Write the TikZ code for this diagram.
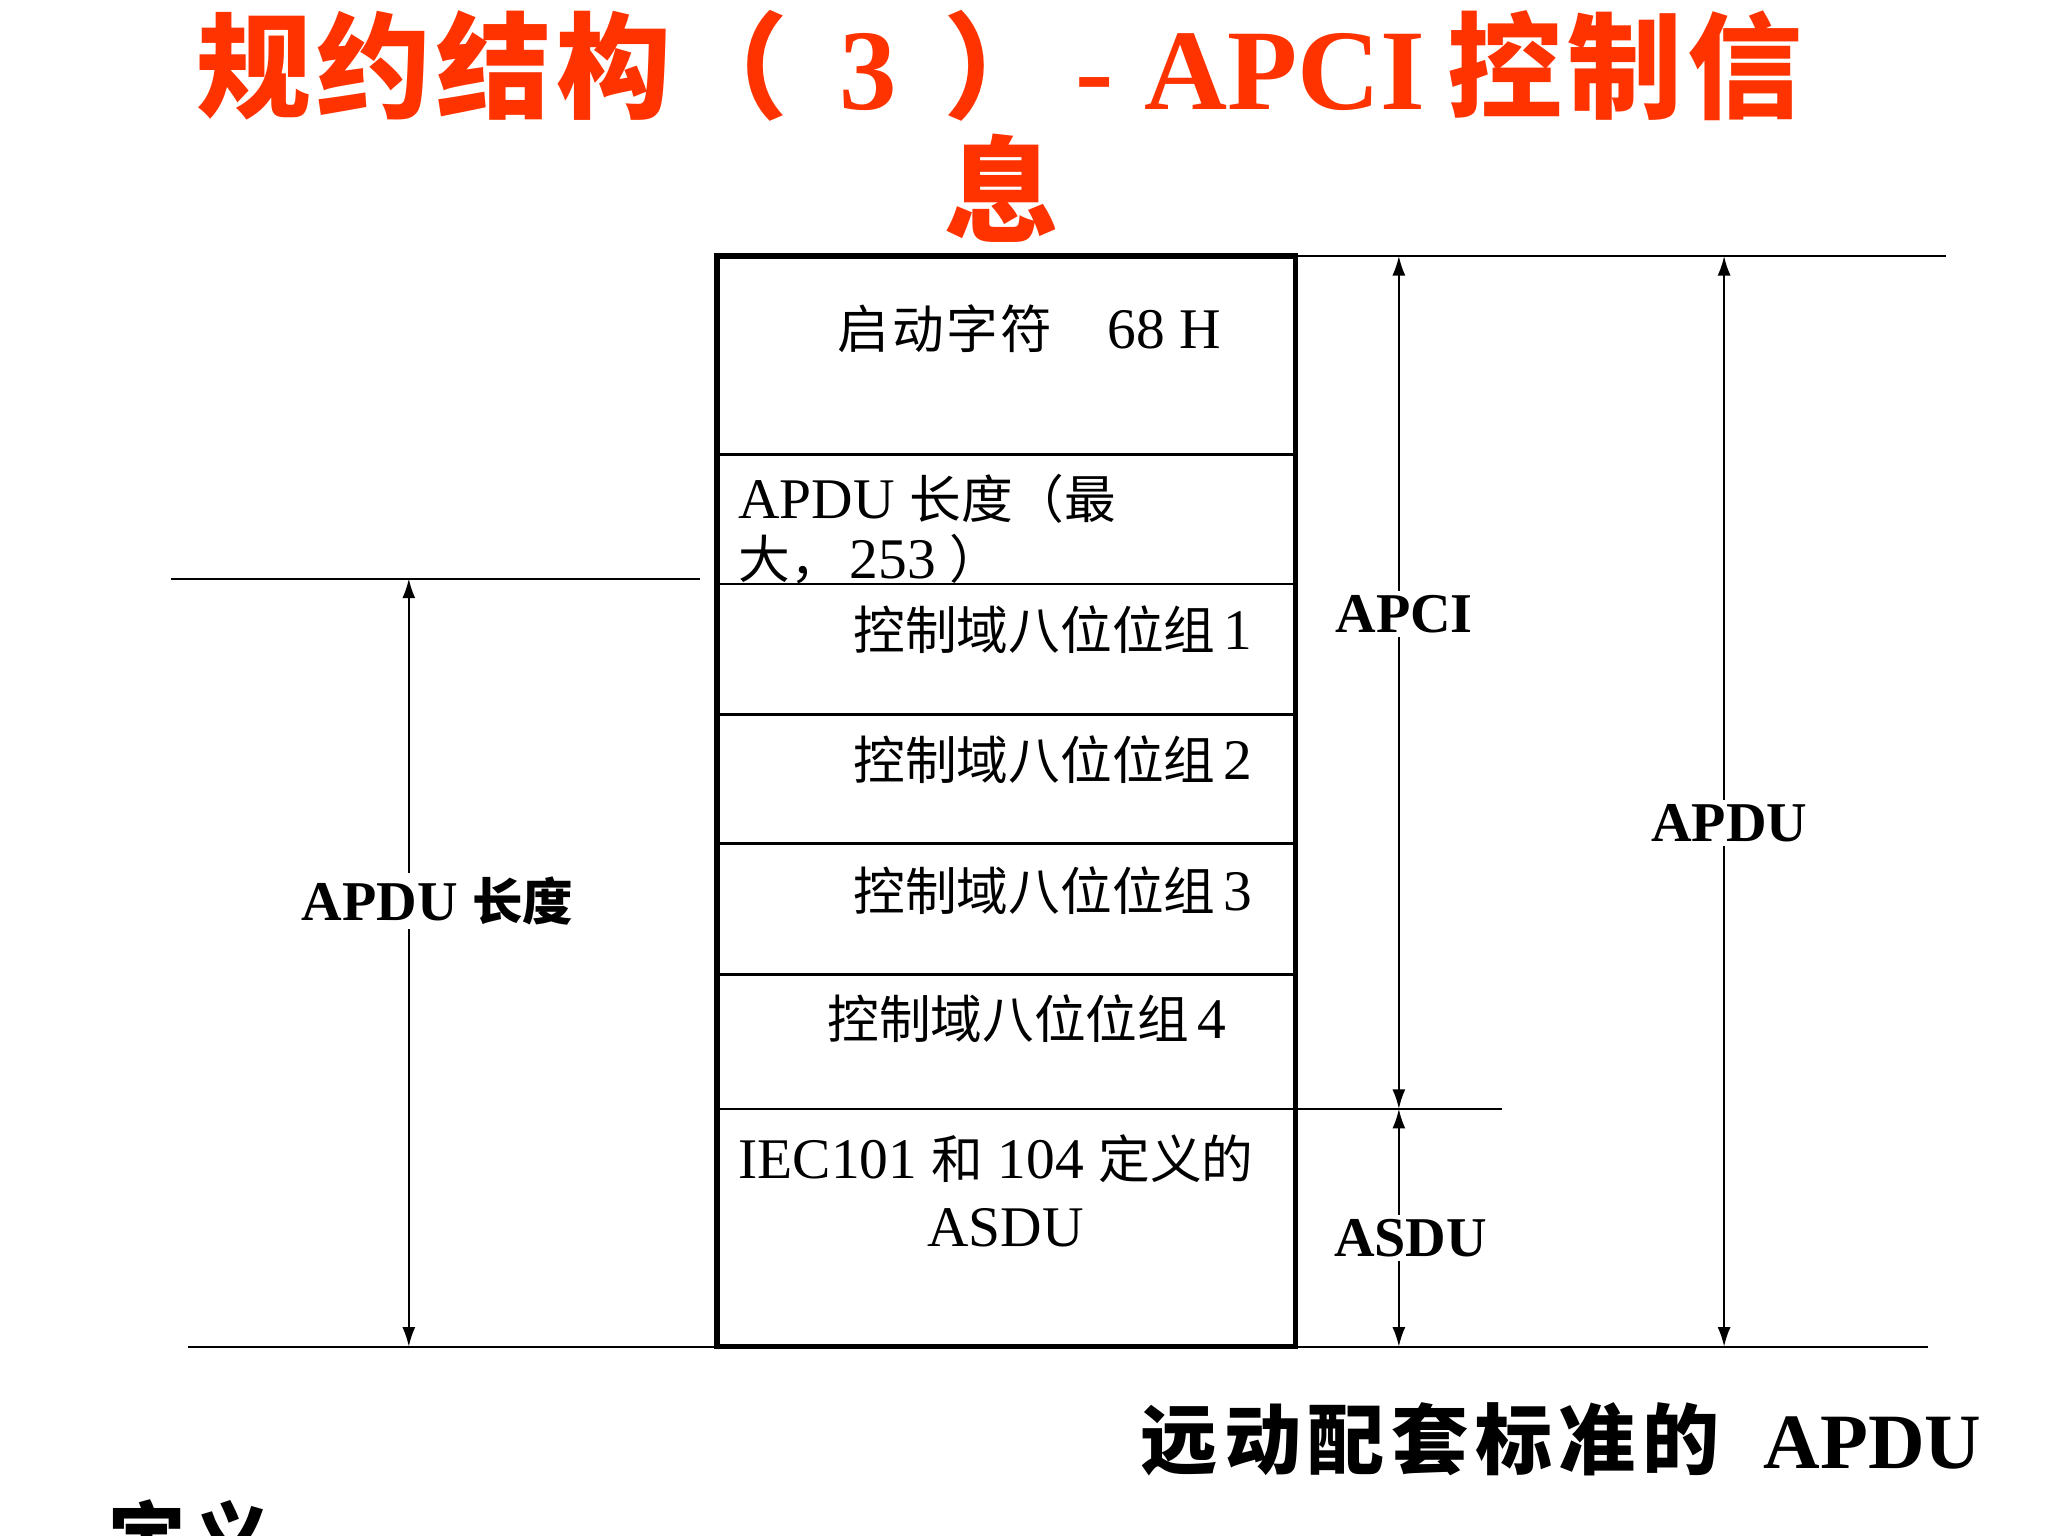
\documentclass[tikz,border=0pt]{standalone}
\usepackage{fontspec}
\setmainfont{Liberation Serif}
\newfontfamily\cjk[Scale=0.9]{Noto Sans CJK SC}
\newfontfamily\cjkt{Noto Sans CJK SC}
\usetikzlibrary{arrows.meta}
\definecolor{titlered}{RGB}{255,51,0}
\newcommand\tk{\kern2pt}
\begin{document}
\begin{tikzpicture}[x=0.5pt,y=-0.5pt,
  boxline/.style={line width=2pt},
  divider/.style={line width=1pt},
  guide/.style={line width=0.75pt},
  dim/.style={line width=0.75pt,{Latex[length=7.5pt,width=5pt]}-{Latex[length=7.5pt,width=5pt]}},
  cell/.style={inner sep=0pt,anchor=base west,font=\fontsize{22}{26}\selectfont},
  dimlabel/.style={fill=white,inner sep=1.5pt,font=\fontsize{21.5}{24}\selectfont\bfseries},
  ttl/.style={inner sep=0pt,anchor=base west,text=titlered,font=\fontsize{44}{50}\selectfont\bfseries},
  ttlc/.style={ttl,anchor=base},
  captext/.style={inner sep=0pt,anchor=base west,font=\fontsize{29.5}{34}\selectfont\bfseries},
]
\clip (0,0) rectangle (1568,1176);
\fill[white] (0,0) rectangle (1568,1176);

% title
\node[ttl] (t1) at (150,84) {\cjkt 规\tk 约\tk 结\tk 构};
\node[ttl] (t2) at (515,84) {\cjkt （};
\node[ttlc] (t3) at (665,84) {3};
\node[ttl] (t4) at (722,84) {\cjkt ）};
\node[ttlc] (t5) at (838,84) {-};
\node[ttl] (t6) at (876,84) {APCI};
\node[ttl] (t7) at (1108,84) {\cjkt 控\tk 制\tk 信};
\node[ttlc] (t8) at (767,179) {\cjkt 息};

% box and rows
\draw[boxline] (549,196) rectangle (992,1031);
\foreach \yy in {348,447,547,646,746,849} \draw[divider] (549,\yy) -- (992,\yy);

\node[cell] (r1) at (641,267) {{\cjk 启\kern1pt 动\kern1pt 字\kern1pt 符}\hspace{21pt}68 H};
\node[cell] (r2a) at (565,397) {APDU {\cjk 长度（最}};
\node[cell] (r2b) at (565,443) {{\cjk 大，}\kern3pt 253\kern5pt{\cjk ）}};
\node[cell] (r3) at (653,497) {{\cjk 控制域八位位组}\kern3pt 1};
\node[cell] (r4) at (653,597) {{\cjk 控制域八位位组}\kern3pt 2};
\node[cell] (r5) at (653,697) {{\cjk 控制域八位位组}\kern3pt 3};
\node[cell] (r6) at (633,795) {{\cjk 控制域八位位组}\kern3pt 4};
\node[cell] (r7a) at (565,902) {IEC101 {\cjk 和} 104 {\cjk 定义的}};
\node[cell,anchor=base] (r7b) at (770,954) {ASDU};

% guide lines
\draw[guide] (992,196) -- (1490,196);
\draw[guide] (992,849) -- (1150,849);
\draw[guide] (144,1031) -- (1476,1031);
\draw[guide] (131,443) -- (536,443);

% dimension arrows
\coordinate (apciT) at (1071,196);
\coordinate (apciB) at (1071,849);
\coordinate (asduB) at (1071,1031);
\coordinate (apduT) at (1320,196);
\coordinate (apduB) at (1320,1031);
\coordinate (lenT) at (313,443);
\coordinate (lenB) at (313,1031);
\draw[dim] (apciT) -- (apciB);
\draw[dim] (apciB) -- (asduB);
\draw[dim] (apduT) -- (apduB);
\draw[dim] (lenT) -- (lenB);

\node[dimlabel] (lapci) at (1075,470) {APCI};
\node[dimlabel] (lapdu) at (1324,630) {APDU};
\node[dimlabel] (lasdu) at (1080,948) {ASDU};
\node[dimlabel] (llen) at (335,690) {APDU {\cjk 长度}};

% caption
\node[captext] (c1) at (873,1124) {\cjkt 远\kern2.5pt 动\kern2.5pt 配\kern2.5pt 套\kern2.5pt 标\kern2.5pt 准\kern2.5pt 的};
\node[captext,font=\fontsize{30}{34}\selectfont\bfseries] (c2) at (1350,1124) {APDU};
\node[captext] (c3) at (83,1199) {\cjkt 定\kern2.5pt 义};
\end{tikzpicture}
\end{document}
